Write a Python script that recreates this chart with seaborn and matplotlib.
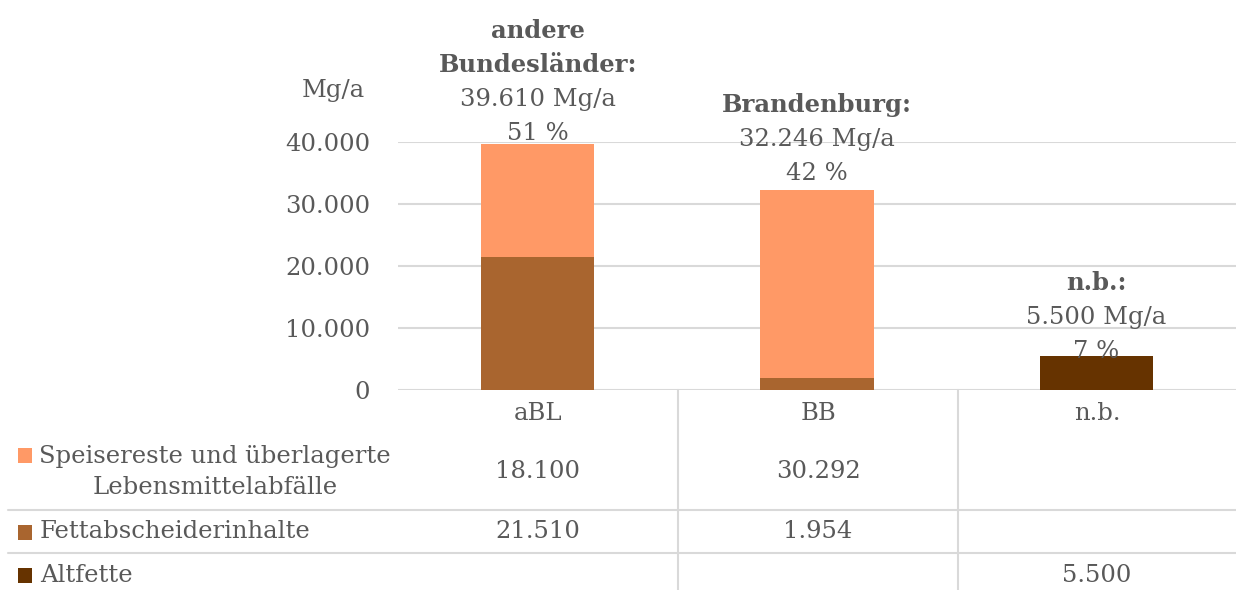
import numpy as np
import pandas as pd
import seaborn as sns
import matplotlib
matplotlib.use("Agg")
import matplotlib.pyplot as plt
from matplotlib.lines import Line2D
from matplotlib.patches import Rectangle

# ---------------- data ----------------
categories = ["aBL", "BB", "n.b."]
series_names = ["Speisereste und überlagerte\nLebensmittelabfälle",
                "Fettabscheiderinhalte",
                "Altfette"]
speisereste = [18100, 30292, None]
fettabscheider = [21510, 1954, None]
altfette = [None, None, 5500]
label_titles = [["andere", "Bundesländer:"], ["Brandenburg:"], ["n.b.:"]]
y_ticks = [0, 10000, 20000, 30000, 40000]
unit = "Mg/a"

# ---------------- style ----------------
colors = ["#FF9966", "#A9652F", "#663300"]
text_col = "#595959"
grid_col = "#D9D9D9"
FONT = ["DejaVu Serif"]
FS = 17.5
label_base_px = [4, 10, -2]   # baseline of lowest label line above bar top
LINE_PX = 34

W, H = 1236, 590
sns.set_theme(style="white")
plt.rcParams["font.family"] = FONT
plt.rcParams["text.color"] = text_col

def fx(px):
    return px / W

def fy(py):
    return 1 - py / H

def de(v):
    return f"{v:,.0f}".replace(",", ".")

series = [speisereste, fettabscheider, altfette]
vals = np.array([[0 if v is None else v for v in s] for s in series], dtype=float)
totals = vals.sum(axis=0)
grand = totals.sum()

fig = plt.figure(figsize=(W / 100, H / 100), dpi=100)
ax = fig.add_axes([fx(398), fy(390), fx(1236) - fx(398), fy(142) - fy(390)])

# stacked bars drawn as overlapping cumulative layers
for k in range(len(series)):
    cum = vals[k:].sum(axis=0)
    df = pd.DataFrame({"cat": categories, "val": cum})
    sns.barplot(data=df, x="cat", y="val", color=colors[k], saturation=1,
                width=0.405, ax=ax, zorder=3, linewidth=0)

ax.set_xlim(-0.5, len(categories) - 0.5)
ax.set_ylim(0, 40000)
ax.set_yticks(y_ticks)
ax.set_yticklabels([de(t) for t in y_ticks], fontsize=FS, color=text_col)
ax.set_xticks(range(len(categories)))
ax.set_xticklabels([""] * len(categories))
ax.tick_params(axis="both", length=0)
ax.tick_params(axis="y", pad=20)
ax.set_xlabel("")
ax.set_ylabel("")
for s in ax.spines.values():
    s.set_visible(False)
ax.yaxis.grid(True, color=grid_col, linewidth=1.5, zorder=0)
ax.set_axisbelow(True)
ax.patch.set_alpha(0)

# unit label
fig.text(fx(333), fy(90), unit, ha="center", va="center", fontsize=FS, color=text_col)

# data labels above bars, one line at a time (bottom up)
for i, cat in enumerate(categories):
    pct = round(totals[i] / grand * 100)
    lines = [(f"{pct} %", "normal"), (f"{de(totals[i])} {unit}", "normal")]
    for t in reversed(label_titles[i]):
        lines.append((t, "bold"))
    for n, (txt, wt) in enumerate(lines):
        off = (label_base_px[i] + n * LINE_PX) * 0.72
        ax.annotate(txt, xy=(i, totals[i]), xytext=(0, off),
                    textcoords="offset points", ha="center", va="baseline",
                    fontsize=FS, fontweight=wt, color=text_col,
                    annotation_clip=False, zorder=5)

# ---------------- data table ----------------
col_edges = [398, 678, 958, 1236]
col_centers = [(col_edges[j] + col_edges[j + 1]) / 2 for j in range(len(categories))]
row_y = [472, 532, 575]
header_y = 413
sep_y = [510, 553]

for yy in sep_y:
    fig.add_artist(Line2D([fx(8), fx(1236)], [fy(yy), fy(yy)], color=grid_col, lw=1.5))
for xx in col_edges[1:-1]:
    fig.add_artist(Line2D([fx(xx), fx(xx)], [fy(390), fy(590)], color=grid_col, lw=1.5))

for j, cat in enumerate(categories):
    fig.text(fx(col_centers[j]), fy(header_y), cat, ha="center", va="center",
             fontsize=FS, color=text_col)

for r, name in enumerate(series_names):
    yy = row_y[r]
    if "\n" in name:
        fig.text(fx(215), fy(yy), name, ha="center", va="center", fontsize=FS,
                 color=text_col, linespacing=1.5, multialignment="center")
        sq_y = yy - 17
    else:
        fig.text(fx(40), fy(yy), name, ha="left", va="center", fontsize=FS,
                 color=text_col)
        sq_y = yy
    fig.add_artist(Rectangle((fx(18), fy(sq_y + 7.5)), fx(14), fy(0) - fy(15),
                             color=colors[r], transform=fig.transFigure, lw=0))
    for j in range(len(categories)):
        v = series[r][j]
        if v is not None:
            fig.text(fx(col_centers[j]), fy(yy), de(v), ha="center", va="center",
                     fontsize=FS, color=text_col)

fig.savefig("out.png", dpi=100)
